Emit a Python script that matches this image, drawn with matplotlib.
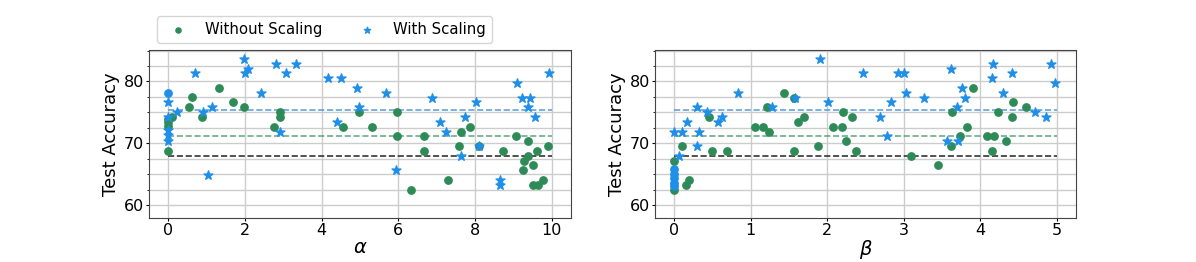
import numpy as np
import matplotlib
matplotlib.use("Agg")
import matplotlib.pyplot as plt
from matplotlib.ticker import MultipleLocator

# ---- alpha sweep (left panel) ----
alpha_without = [0, 0, 0, 0, 0.09, 0.55, 0.61, 0.88, 1.32, 1.70, 1.97,
                 2.76, 2.92, 2.92, 4.55, 4.97, 5.30, 5.96, 5.96, 6.34,
                 6.67, 6.67, 7.29, 7.58, 7.64, 7.86, 8.10, 8.73, 9.06,
                 9.25, 9.28, 9.37, 9.38, 9.50, 9.50, 9.61, 9.63, 9.76, 9.90]
acc_alpha_without = [74.0, 73.4, 72.8, 68.8, 74.2, 75.8, 77.5, 74.2, 79.0,
                     76.6, 75.8, 72.7, 75.0, 74.2, 72.7, 75.0, 72.7, 75.0,
                     71.1, 62.5, 71.1, 68.7, 64.1, 69.6, 71.9, 72.6, 69.6,
                     68.7, 71.1, 65.6, 67.1, 70.3, 67.9, 66.4, 63.2, 68.7,
                     63.2, 64.1, 69.6]

alpha_with = [0, 0, 0, 0, 0, 0.23, 0.70, 0.90, 1.05, 1.13, 1.97, 2.00,
              2.09, 2.42, 2.80, 2.91, 3.06, 3.33, 4.17, 4.41, 4.51, 4.91,
              4.97, 5.67, 5.95, 6.88, 7.08, 7.24, 7.64, 7.73, 8.03, 8.09,
              8.64, 8.64, 9.08, 9.22, 9.38, 9.43, 9.56, 9.93]
acc_alpha_with = [76.6, 74.2, 72.2, 71.4, 70.4, 75.0, 81.4, 75.0, 64.9,
                  75.8, 83.6, 81.4, 82.1, 78.2, 82.9, 71.9, 81.4, 82.9,
                  80.5, 73.5, 80.5, 79.0, 75.8, 78.2, 65.7, 77.4, 73.5,
                  71.9, 67.9, 74.2, 76.6, 69.6, 64.1, 63.2, 79.7, 77.4,
                  75.8, 77.4, 74.2, 81.4]
# with-scaling runs at alpha = 0 that show as round markers
alpha_with_base = [0]
acc_alpha_with_base = [78.2]

# ---- beta sweep (right panel) ----
beta_without = [0, 0, 0.10, 0.16, 0.20, 0.46, 0.50, 0.69, 1.05, 1.16,
                1.21, 1.24, 1.44, 1.56, 1.56, 1.62, 1.70, 1.88, 2.07,
                2.19, 2.20, 2.24, 2.33, 2.38, 3.10, 3.45, 3.62, 3.63,
                3.73, 3.83, 3.91, 4.09, 4.15, 4.18, 4.23, 4.33, 4.42,
                4.43, 4.60]
acc_beta_without = [67.2, 62.4, 69.6, 63.2, 64.1, 74.2, 68.7, 68.7, 72.6,
                    72.6, 75.8, 71.9, 78.2, 77.4, 68.7, 73.5, 74.2, 69.6,
                    72.6, 72.6, 75.0, 70.3, 74.2, 68.7, 67.9, 66.4, 69.6,
                    75.0, 71.1, 72.6, 79.0, 71.1, 68.7, 71.1, 75.0, 70.3,
                    74.2, 76.6, 75.8]

beta_with = [0, 0.06, 0.10, 0.17, 0.30, 0.30, 0.32, 0.43, 0.57, 0.63,
             0.83, 1.28, 1.58, 1.90, 2.01, 2.47, 2.69, 2.78, 2.83, 2.92,
             3.00, 3.03, 3.27, 3.57, 3.62, 3.70, 3.71, 3.76, 3.80, 4.15,
             4.16, 4.29, 4.41, 4.71, 4.86, 4.92, 4.97]
acc_beta_with = [71.9, 68.0, 71.9, 73.5, 75.9, 69.6, 71.9, 75.1, 73.5,
                 74.2, 78.2, 75.8, 77.4, 83.6, 76.6, 81.4, 74.2, 71.1,
                 76.6, 81.4, 81.4, 78.2, 77.4, 70.3, 82.1, 75.8, 70.3,
                 79.0, 77.4, 80.5, 82.9, 78.2, 81.4, 75.0, 74.2, 82.9, 79.7]
beta_with_base = [0, 0, 0, 0, 0]
acc_beta_with_base = [65.8, 65.0, 64.3, 63.5, 63.1]

# reference levels (dashed lines)
level_base = 68.0
level_without = 71.1
level_with = 75.4

green = "#2e8b57"
blue = "#1f8fe8"

fig = plt.figure(figsize=(11.96, 2.62), dpi=100)
ax1 = fig.add_axes([149 / 1196, 1 - 218 / 262, 422 / 1196, 168 / 262])
ax2 = fig.add_axes([655 / 1196, 1 - 218 / 262, 421 / 1196, 168 / 262])

panels = [
    (ax1, alpha_without, acc_alpha_without, alpha_with, acc_alpha_with,
     alpha_with_base, acc_alpha_with_base, r"$\alpha$", 10, 2),
    (ax2, beta_without, acc_beta_without, beta_with, acc_beta_with,
     beta_with_base, acc_beta_with_base, r"$\beta$", 5, 1),
]

for ax, xw, yw, xs, ys, xb, yb, lab, xmax, step in panels:
    ax.hlines(level_base, 0, xmax, colors="#333333", linestyles="--", lw=1.2, zorder=2)
    ax.hlines(level_without, 0, xmax, colors=green, linestyles="--", lw=1.2, alpha=0.7, zorder=2)
    ax.hlines(level_with, 0, xmax, colors="#3a8fd0", linestyles="--", lw=1.2, alpha=0.8, zorder=2)
    ax.scatter(xw, yw, marker="o", s=28, color=green, label="Without Scaling", zorder=3)
    ax.scatter(xs, ys, marker="*", s=45, color=blue, label="With Scaling", zorder=3)
    ax.scatter(xb, yb, marker="o", s=28, color=blue, zorder=3)
    ax.set_xlim(-0.05 * xmax, 1.05 * xmax)
    ax.set_ylim(57.9, 85.1)
    ax.xaxis.set_major_locator(MultipleLocator(step))
    ax.yaxis.set_major_locator(MultipleLocator(10))
    ax.yaxis.set_minor_locator(MultipleLocator(2.5))
    ax.grid(True, which="major", color="#cccccc", lw=1.0, zorder=0)
    ax.grid(True, which="minor", axis="y", color="#cccccc", lw=1.0, zorder=0)
    ax.set_axisbelow(True)
    ax.tick_params(which="major", labelsize=11.5, length=2, pad=1.5)
    ax.tick_params(which="minor", length=1.2)
    ax.set_xlabel(lab, fontsize=14, labelpad=0)
    ax.set_ylabel("Test Accuracy", fontsize=13, labelpad=3)
    for sp in ax.spines.values():
        sp.set_color("#444444")

ax1.legend(loc="lower left", bbox_to_anchor=(0.019, 1.04), borderaxespad=0,
           ncol=2, fontsize=10.7, scatterpoints=1, markerscale=0.7)

fig.savefig("out.png", dpi=100)
